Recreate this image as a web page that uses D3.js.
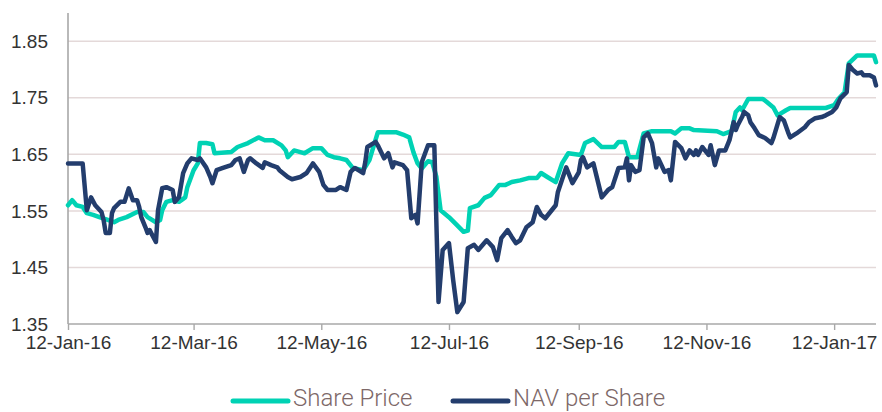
<!DOCTYPE html>
<html>
<head>
<meta charset="utf-8">
<script src="https://cdn.jsdelivr.net/npm/d3@7"></script>
<style>
  html, body { margin: 0; padding: 0; background: #fff; }
  svg { display: block; font-family: Roboto, "Liberation Sans", sans-serif; }
  .tick-label { font-size: 19px; font-weight: 300; fill: #333; }
  .legend-label { font-size: 24px; font-weight: 300; fill: #7d6868; }
</style>
</head>
<body>
<svg id="chart" width="882" height="412"></svg>
<script>
// share price
const spDates = [
  '2016-01-12','2016-01-14','2016-01-16','2016-01-19','2016-01-21','2016-01-24','2016-01-27','2016-01-31',
  '2016-02-03','2016-02-05','2016-02-09','2016-02-14','2016-02-17','2016-02-19','2016-02-23','2016-02-25',
  '2016-02-26','2016-02-28','2016-03-02','2016-03-05','2016-03-08','2016-03-09','2016-03-12','2016-03-14',
  '2016-03-15','2016-03-18','2016-03-21','2016-03-22','2016-03-30','2016-04-02','2016-04-07','2016-04-12',
  '2016-04-15','2016-04-19','2016-04-23','2016-04-25','2016-04-26','2016-04-29','2016-05-02','2016-05-04',
  '2016-05-08','2016-05-12','2016-05-15','2016-05-18','2016-05-21','2016-05-24','2016-05-27','2016-06-01',
  '2016-06-04','2016-06-08','2016-06-17','2016-06-20','2016-06-23','2016-06-25','2016-06-27','2016-06-29',
  '2016-07-02','2016-07-04','2016-07-06','2016-07-08','2016-07-12','2016-07-15','2016-07-19','2016-07-21',
  '2016-07-22','2016-07-26','2016-07-29','2016-08-01','2016-08-05','2016-08-08','2016-08-11','2016-08-15',
  '2016-08-19','2016-08-23','2016-08-25','2016-08-28','2016-09-01','2016-09-04','2016-09-07','2016-09-13',
  '2016-09-15','2016-09-19','2016-09-23','2016-09-29','2016-10-01','2016-10-04','2016-10-06','2016-10-10',
  '2016-10-13','2016-10-17','2016-10-26','2016-10-28','2016-10-31','2016-11-04','2016-11-06','2016-11-17',
  '2016-11-20','2016-11-24','2016-11-26','2016-11-28','2016-11-29','2016-12-02','2016-12-09','2016-12-11',
  '2016-12-14','2016-12-16','2016-12-20','2016-12-22','2017-01-08','2017-01-12','2017-01-14','2017-01-17',
  '2017-01-19','2017-01-23','2017-01-31','2017-02-01'
];
const spValues = [
  1.560,1.569,1.560,1.557,1.546,1.543,1.539,1.534,
  1.530,1.534,1.539,1.548,1.548,1.539,1.530,1.534,
  1.551,1.566,1.569,1.566,1.574,1.592,1.622,1.634,
  1.670,1.670,1.668,1.652,1.654,1.663,1.670,1.680,
  1.675,1.675,1.666,1.657,1.645,1.657,1.654,1.652,
  1.661,1.661,1.649,1.645,1.643,1.640,1.626,1.622,
  1.640,1.689,1.689,1.685,1.680,1.654,1.634,1.625,
  1.638,1.636,1.610,1.551,1.539,1.528,1.513,1.515,
  1.555,1.560,1.573,1.578,1.596,1.596,1.601,1.604,
  1.608,1.608,1.617,1.610,1.601,1.634,1.652,1.649,
  1.670,1.677,1.663,1.663,1.672,1.672,1.645,1.645,
  1.687,1.691,1.691,1.687,1.696,1.696,1.693,1.691,
  1.686,1.691,1.725,1.733,1.728,1.748,1.748,1.742,
  1.733,1.719,1.728,1.732,1.732,1.737,1.748,1.760,
  1.811,1.825,1.825,1.813
];

// NAV per share
const navDates = [
  '2016-01-12','2016-01-19','2016-01-21','2016-01-23','2016-01-25','2016-01-28','2016-01-29','2016-01-30',
  '2016-02-01','2016-02-02','2016-02-03','2016-02-06','2016-02-08','2016-02-10','2016-02-12','2016-02-14',
  '2016-02-15','2016-02-16','2016-02-18','2016-02-19','2016-02-20','2016-02-23','2016-02-24','2016-02-26',
  '2016-02-28','2016-03-02','2016-03-03','2016-03-05','2016-03-07','2016-03-09','2016-03-11','2016-03-14',
  '2016-03-15','2016-03-18','2016-03-20','2016-03-21','2016-03-23','2016-03-26','2016-03-30','2016-04-01',
  '2016-04-03','2016-04-05','2016-04-07','2016-04-08','2016-04-11','2016-04-14','2016-04-15','2016-04-18',
  '2016-04-21','2016-04-22','2016-04-26','2016-04-28','2016-05-02','2016-05-05','2016-05-08','2016-05-11',
  '2016-05-13','2016-05-15','2016-05-19','2016-05-21','2016-05-24','2016-05-26','2016-05-28','2016-06-01',
  '2016-06-02','2016-06-03','2016-06-07','2016-06-08','2016-06-11','2016-06-13','2016-06-15','2016-06-16',
  '2016-06-20','2016-06-22','2016-06-24','2016-06-26','2016-06-27','2016-06-29','2016-07-02','2016-07-05',
  '2016-07-07','2016-07-09','2016-07-12','2016-07-14','2016-07-16','2016-07-19','2016-07-21','2016-07-24',
  '2016-07-26','2016-07-30','2016-08-02','2016-08-04','2016-08-06','2016-08-09','2016-08-11','2016-08-13',
  '2016-08-15','2016-08-18','2016-08-21','2016-08-23','2016-08-25','2016-08-27','2016-09-01','2016-09-02',
  '2016-09-06','2016-09-09','2016-09-12','2016-09-13','2016-09-14','2016-09-16','2016-09-19','2016-09-21',
  '2016-09-23','2016-09-26','2016-09-28','2016-10-01','2016-10-04','2016-10-05','2016-10-06','2016-10-07',
  '2016-10-09','2016-10-11','2016-10-13','2016-10-15','2016-10-17','2016-10-19','2016-10-20','2016-10-23',
  '2016-10-25','2016-10-26','2016-10-28','2016-10-31','2016-11-02','2016-11-04','2016-11-06','2016-11-07',
  '2016-11-08','2016-11-10','2016-11-13','2016-11-14','2016-11-16','2016-11-18','2016-11-21','2016-11-23',
  '2016-11-25','2016-11-26','2016-11-27','2016-11-29','2016-11-30','2016-12-02','2016-12-03','2016-12-05',
  '2016-12-07','2016-12-10','2016-12-13','2016-12-14','2016-12-17','2016-12-19','2016-12-21','2016-12-22',
  '2016-12-25','2016-12-29','2016-12-31','2017-01-03','2017-01-06','2017-01-08','2017-01-11','2017-01-13',
  '2017-01-15','2017-01-18','2017-01-19','2017-01-21','2017-01-23','2017-01-25','2017-01-26','2017-01-29',
  '2017-01-31','2017-02-01'
];
const navValues = [
  1.634,1.634,1.551,1.574,1.560,1.548,1.534,1.511,
  1.511,1.546,1.555,1.566,1.566,1.590,1.569,1.569,
  1.557,1.539,1.521,1.511,1.516,1.495,1.551,1.590,
  1.592,1.587,1.566,1.574,1.617,1.634,1.643,1.640,
  1.643,1.627,1.610,1.599,1.622,1.626,1.631,1.640,
  1.643,1.619,1.640,1.643,1.634,1.626,1.636,1.631,
  1.627,1.622,1.610,1.606,1.610,1.617,1.634,1.619,
  1.596,1.587,1.587,1.592,1.587,1.619,1.626,1.617,
  1.636,1.663,1.672,1.666,1.643,1.652,1.627,1.636,
  1.631,1.622,1.537,1.543,1.528,1.636,1.666,1.666,
  1.389,1.481,1.493,1.428,1.371,1.389,1.484,1.490,
  1.481,1.498,1.486,1.463,1.502,1.516,1.504,1.493,
  1.498,1.521,1.530,1.557,1.543,1.537,1.560,1.583,
  1.627,1.599,1.618,1.640,1.645,1.627,1.634,1.604,
  1.574,1.587,1.592,1.626,1.627,1.643,1.604,1.631,
  1.619,1.622,1.680,1.687,1.670,1.627,1.643,1.619,
  1.622,1.604,1.672,1.661,1.643,1.657,1.649,1.657,
  1.649,1.663,1.649,1.666,1.631,1.657,1.657,1.675,
  1.707,1.693,1.702,1.716,1.725,1.719,1.707,1.696,
  1.684,1.679,1.670,1.679,1.716,1.710,1.689,1.680,
  1.687,1.698,1.707,1.714,1.716,1.719,1.725,1.733,
  1.749,1.760,1.808,1.799,1.793,1.795,1.790,1.790,
  1.786,1.772
];

const yTicks = [1.35, 1.45, 1.55, 1.65, 1.75, 1.85];
const xTickDates = ['2016-01-12','2016-03-12','2016-05-12','2016-07-12','2016-09-12','2016-11-12','2017-01-12'];
const seriesNames = ['Share Price', 'NAV per Share'];
const seriesColors = ['#00d2b4', '#233d6d'];

const parse = d3.timeParse('%Y-%m-%d');
const fmt = d3.timeFormat('%-d-%b-%y');

const svg = d3.select('#chart');
const M = {left: 68, right: 6, top: 13, bottom: 88};
const W = 882, H = 412;

const x = d3.scaleTime()
  .domain([parse('2016-01-12'), parse('2017-02-01')])
  .range([M.left, W - M.right]);
const y = d3.scaleLinear()
  .domain([1.35, 1.90])
  .range([H - M.bottom, M.top]);

// gridlines
svg.append('g').selectAll('line')
  .data(yTicks.filter(t => t > 1.35))
  .join('line')
  .attr('x1', M.left).attr('x2', W - M.right)
  .attr('y1', d => y(d)).attr('y2', d => y(d))
  .attr('stroke', '#e4d9d9').attr('stroke-width', 1.5);

// y axis
const yAxis = svg.append('g')
  .attr('transform', 'translate(' + M.left + ',0)')
  .call(d3.axisLeft(y).tickValues(yTicks).tickSize(0).tickPadding(20).tickFormat(d3.format('.2f')));
yAxis.select('.domain').remove();
yAxis.selectAll('text').attr('class', 'tick-label');
svg.append('line')
  .attr('x1', M.left).attr('x2', M.left)
  .attr('y1', M.top).attr('y2', y(1.35))
  .attr('stroke', '#a8a8a8').attr('stroke-width', 1.6);

// x axis
const xAxis = svg.append('g')
  .attr('transform', 'translate(0,' + y(1.35) + ')')
  .call(d3.axisBottom(x).tickValues(xTickDates.map(parse)).tickSize(6).tickPadding(6).tickFormat(fmt));
xAxis.select('.domain').attr('stroke', '#a8a8a8').attr('stroke-width', 1.6)
  .attr('d', 'M' + M.left + ',0H' + (W - M.right));
xAxis.selectAll('.tick line').attr('stroke', '#a8a8a8').attr('stroke-width', 1.4);
xAxis.selectAll('text').attr('class', 'tick-label');

// lines
const line = d3.line().x(d => x(d.date)).y(d => y(d.value));
const series = [
  spDates.map((d, i) => ({date: parse(d), value: spValues[i]})),
  navDates.map((d, i) => ({date: parse(d), value: navValues[i]}))
];
series.forEach((s, i) => {
  svg.append('path')
    .datum(s)
    .attr('d', line)
    .attr('fill', 'none')
    .attr('stroke', seriesColors[i])
    .attr('stroke-width', 4.5)
    .attr('stroke-linejoin', 'round')
    .attr('stroke-linecap', 'round');
});

// legend
const legendX = [233, 453];
const legend = svg.append('g');
seriesNames.forEach((name, i) => {
  legend.append('line')
    .attr('x1', legendX[i]).attr('x2', legendX[i] + 55)
    .attr('y1', 401).attr('y2', 401)
    .attr('stroke', seriesColors[i]).attr('stroke-width', 5)
    .attr('stroke-linecap', 'round');
  legend.append('text')
    .attr('class', 'legend-label')
    .attr('x', legendX[i] + 60).attr('y', 406)
    .text(name);
});
</script>
</body>
</html>
